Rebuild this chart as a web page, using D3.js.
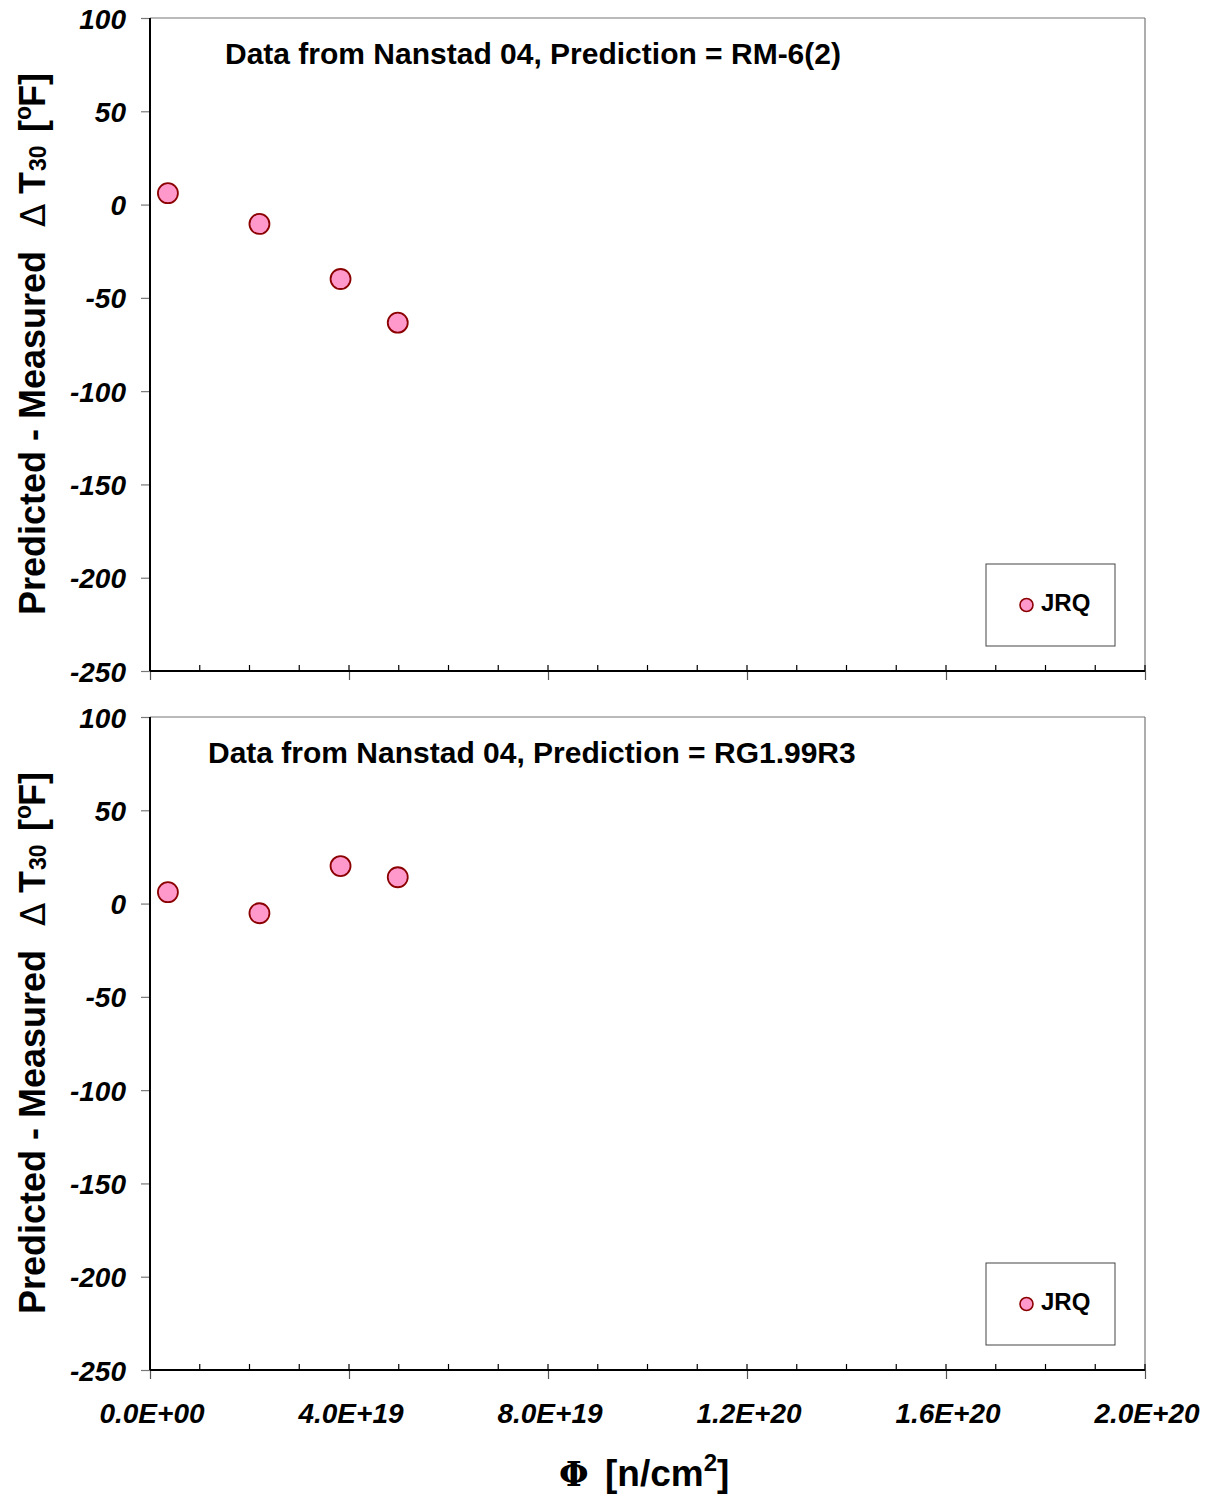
<!DOCTYPE html>
<html>
<head>
<meta charset="utf-8">
<script src="https://cdn.jsdelivr.net/npm/d3@7"></script>
<style>
  body { margin: 0; background: #fff; }
  svg { display: block; }
  text { font-family: "Liberation Sans", Arial, sans-serif; }
</style>
</head>
<body>
<svg id="chart" width="1210" height="1496"></svg>
<script>
// ---- Data ----
const series = "JRQ";
const fluence = [3.6e18, 2.2e19, 3.83e19, 4.98e19];
const residualRM6 = [6.1, -10.4, -39.9, -63.3];
const residualRG199 = [6.1, -5.2, 20.1, 14.1];
const panelTitles = ["Data from Nanstad 04, Prediction = RM-6(2)", "Data from Nanstad 04, Prediction = RG1.99R3"];
const yTicks = [100, 50, 0, -50, -100, -150, -200, -250];
const xTicks = [0, 4e19, 8e19, 1.2e20, 1.6e20, 2.0e20];
const xTickLabels = ["0.0E+00", "4.0E+19", "8.0E+19", "1.2E+20", "1.6E+20", "2.0E+20"];
const xMinorTicks = d3.range(0, 2.0001e20, 1e19);

const svg = d3.select("#chart");
const left = 150, right = 1145;
const x = d3.scaleLinear().domain([0, 2e20]).range([left, right]);

const panels = [
  { top: 18, bottom: 671, values: residualRM6, title: panelTitles[0], titleX: 225, legendY: 564 },
  { top: 717, bottom: 1370, values: residualRG199, title: panelTitles[1], titleX: 208, legendY: 1263 }
];

const fill = "#ff99cc", stroke = "#8b0000";

panels.forEach((p, i) => {
  const y = d3.scaleLinear().domain([-250, 100]).range([p.bottom, p.top]);
  const g = svg.append("g");

  // frame: top and right (gray)
  g.append("line").attr("x1", left).attr("x2", right).attr("y1", p.top).attr("y2", p.top)
    .attr("stroke", "#777").attr("stroke-width", 1.2);
  g.append("line").attr("x1", right).attr("x2", right).attr("y1", p.top).attr("y2", p.bottom)
    .attr("stroke", "#777").attr("stroke-width", 1.2);

  // y axis
  const yAxis = d3.axisLeft(y).tickValues(yTicks).tickSize(9).tickFormat("");
  const ya = g.append("g").attr("transform", `translate(${left},0)`).call(yAxis);
  ya.select(".domain").remove();
  ya.selectAll(".tick line").attr("stroke", "#777").attr("stroke-width", 1.2);
  g.append("line").attr("x1", left).attr("x2", left).attr("y1", p.top).attr("y2", p.bottom)
    .attr("stroke", "#000").attr("stroke-width", 2);

  g.selectAll(".ylab").data(yTicks).enter().append("text")
    .attr("x", 126).attr("y", d => y(d) + 10.5)
    .attr("text-anchor", "end")
    .style("font-size", "28px").style("font-weight", "bold").style("font-style", "italic")
    .text(d => d);

  // x axis minor ticks (inside)
  g.selectAll(".xminor").data(xMinorTicks).enter().append("line")
    .attr("x1", d => x(d)).attr("x2", d => x(d))
    .attr("y1", p.bottom - 6).attr("y2", p.bottom)
    .attr("stroke", "#000").attr("stroke-width", 1.2);
  // major ticks (crossing, below)
  const xAxis = d3.axisBottom(x).tickValues(xTicks).tickSize(9).tickFormat("");
  const xa = g.append("g").attr("transform", `translate(0,${p.bottom})`).call(xAxis);
  xa.select(".domain").remove();
  xa.selectAll(".tick line").attr("stroke", "#555").attr("stroke-width", 1.2);
  g.append("line").attr("x1", left).attr("x2", right).attr("y1", p.bottom).attr("y2", p.bottom)
    .attr("stroke", "#000").attr("stroke-width", 2);

  if (i === 1) {
    g.selectAll(".xlab").data(xTicks).enter().append("text")
      .attr("x", d => x(d) + 2).attr("y", p.bottom + 53)
      .attr("text-anchor", "middle")
      .style("font-size", "28px").style("font-weight", "bold").style("font-style", "italic")
      .text((d, k) => xTickLabels[k]);
  }

  // title
  g.append("text").attr("x", p.titleX).attr("y", p.top + 46)
    .style("font-size", "30px").style("font-weight", "bold")
    .text(p.title);

  // points
  g.selectAll(".pt").data(fluence).enter().append("circle")
    .attr("cx", d => x(d)).attr("cy", (d, k) => y(p.values[k]))
    .attr("r", 10)
    .attr("fill", fill).attr("stroke", stroke).attr("stroke-width", 1.8);

  // legend
  g.append("rect").attr("x", 986).attr("y", p.legendY).attr("width", 129).attr("height", 82)
    .attr("fill", "#fff").attr("stroke", "#444").attr("stroke-width", 1);
  g.append("circle").attr("cx", 1026.5).attr("cy", p.legendY + 41).attr("r", 6.5)
    .attr("fill", fill).attr("stroke", stroke).attr("stroke-width", 1.6);
  g.append("text").attr("x", 1041).attr("y", p.legendY + 47)
    .style("font-size", "24px").style("font-weight", "bold").text(series);

  // y axis title (local x measured from the start of the text)
  const startY = p.bottom - 56;
  const yt = g.append("text")
    .attr("transform", `translate(45,${startY}) rotate(-90)`)
    .style("font-size", "36px").style("font-weight", "bold");
  yt.append("tspan").attr("x", 0).attr("y", 0).text("Predicted - Measured");
  yt.append("tspan").attr("x", 388).attr("y", 0)
    .style("font-weight", "normal").style("font-family", "DejaVu Sans").style("font-size", "34px").text("Δ");
  yt.append("tspan").attr("x", 421).attr("y", 0).text("T");
  yt.append("tspan").attr("x", 444).attr("y", 1).style("font-size", "23px").text("30");
  yt.append("tspan").attr("x", 483).attr("y", 0).text("[");
  yt.append("tspan").attr("x", 495).attr("y", -14).style("font-size", "23px").text("o");
  yt.append("tspan").attr("x", 508).attr("y", 0).text("F]");
});

// x axis title
const xt = svg.append("text").attr("y", 1486)
  .style("font-size", "37px").style("font-weight", "bold");
xt.append("tspan").attr("x", 559).style("font-family", "DejaVu Serif").style("font-weight", "bold").style("font-size", "34px").text("Φ");
xt.append("tspan").attr("x", 605).text("[n/cm");
xt.append("tspan").style("font-size", "24px").attr("dy", -15).text("2");
xt.append("tspan").attr("dy", 15).text("]");
</script>
</body>
</html>
